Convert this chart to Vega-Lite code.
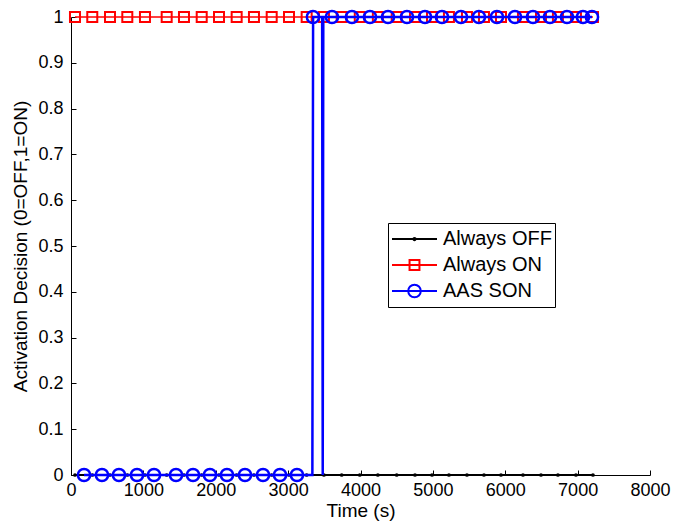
{
  "$schema": "https://vega.github.io/schema/vega-lite/v6.json",
  "width": 579,
  "height": 458,
  "autosize": "none",
  "padding": {"left": 71, "top": 17, "right": 23, "bottom": 49},
  "background": "white",
  "config": {
    "view": {"stroke": null},
    "font": "Liberation Sans",
    "axis": {
      "grid": false,
      "domainColor": "black",
      "domainWidth": 1,
      "tickColor": "black",
      "tickSize": -5,
      "tickWidth": 1,
      "labelColor": "black",
      "labelFont": "Liberation Sans",
      "labelFontSize": 18,
      "titleColor": "black",
      "titleFont": "Liberation Sans",
      "titleFontSize": 19,
      "titleFontWeight": "normal"
    }
  },
  "datasets": {
    "lines": [
      {"series": "Always OFF", "t": 55, "v": 0}, {"series": "Always OFF", "t": 294, "v": 0}, {"series": "Always OFF", "t": 539, "v": 0}, {"series": "Always OFF", "t": 778, "v": 0}, {"series": "Always OFF", "t": 1022, "v": 0}, {"series": "Always OFF", "t": 1322, "v": 0}, {"series": "Always OFF", "t": 1561, "v": 0}, {"series": "Always OFF", "t": 1806, "v": 0}, {"series": "Always OFF", "t": 2045, "v": 0}, {"series": "Always OFF", "t": 2289, "v": 0}, {"series": "Always OFF", "t": 2528, "v": 0}, {"series": "Always OFF", "t": 2773, "v": 0}, {"series": "Always OFF", "t": 3012, "v": 0}, {"series": "Always OFF", "t": 3256, "v": 0}, {"series": "Always OFF", "t": 3495, "v": 0}, {"series": "Always OFF", "t": 3740, "v": 0}, {"series": "Always OFF", "t": 3990, "v": 0}, {"series": "Always OFF", "t": 4240, "v": 0}, {"series": "Always OFF", "t": 4500, "v": 0}, {"series": "Always OFF", "t": 4753, "v": 0}, {"series": "Always OFF", "t": 4988, "v": 0}, {"series": "Always OFF", "t": 5222, "v": 0}, {"series": "Always OFF", "t": 5471, "v": 0}, {"series": "Always OFF", "t": 5706, "v": 0}, {"series": "Always OFF", "t": 5941, "v": 0}, {"series": "Always OFF", "t": 6245, "v": 0}, {"series": "Always OFF", "t": 6494, "v": 0}, {"series": "Always OFF", "t": 6728, "v": 0}, {"series": "Always OFF", "t": 6977, "v": 0}, {"series": "Always OFF", "t": 7212, "v": 0},
      {"series": "Always ON", "t": 55, "v": 1}, {"series": "Always ON", "t": 294, "v": 1}, {"series": "Always ON", "t": 539, "v": 1}, {"series": "Always ON", "t": 778, "v": 1}, {"series": "Always ON", "t": 1022, "v": 1}, {"series": "Always ON", "t": 1322, "v": 1}, {"series": "Always ON", "t": 1561, "v": 1}, {"series": "Always ON", "t": 1806, "v": 1}, {"series": "Always ON", "t": 2045, "v": 1}, {"series": "Always ON", "t": 2289, "v": 1}, {"series": "Always ON", "t": 2528, "v": 1}, {"series": "Always ON", "t": 2773, "v": 1}, {"series": "Always ON", "t": 3012, "v": 1}, {"series": "Always ON", "t": 3256, "v": 1}, {"series": "Always ON", "t": 3495, "v": 1}, {"series": "Always ON", "t": 3740, "v": 1}, {"series": "Always ON", "t": 3990, "v": 1}, {"series": "Always ON", "t": 4240, "v": 1}, {"series": "Always ON", "t": 4500, "v": 1}, {"series": "Always ON", "t": 4753, "v": 1}, {"series": "Always ON", "t": 4988, "v": 1}, {"series": "Always ON", "t": 5222, "v": 1}, {"series": "Always ON", "t": 5471, "v": 1}, {"series": "Always ON", "t": 5706, "v": 1}, {"series": "Always ON", "t": 5941, "v": 1}, {"series": "Always ON", "t": 6245, "v": 1}, {"series": "Always ON", "t": 6494, "v": 1}, {"series": "Always ON", "t": 6728, "v": 1}, {"series": "Always ON", "t": 6977, "v": 1}, {"series": "Always ON", "t": 7212, "v": 1},
      {"series": "AAS SON", "t": 180, "v": 0}, {"series": "AAS SON", "t": 428, "v": 0}, {"series": "AAS SON", "t": 663, "v": 0}, {"series": "AAS SON", "t": 912, "v": 0}, {"series": "AAS SON", "t": 1147, "v": 0}, {"series": "AAS SON", "t": 1451, "v": 0}, {"series": "AAS SON", "t": 1686, "v": 0}, {"series": "AAS SON", "t": 1920, "v": 0}, {"series": "AAS SON", "t": 2155, "v": 0}, {"series": "AAS SON", "t": 2404, "v": 0}, {"series": "AAS SON", "t": 2653, "v": 0}, {"series": "AAS SON", "t": 2888, "v": 0}, {"series": "AAS SON", "t": 3122, "v": 0}, {"series": "AAS SON", "t": 3335, "v": 0}, {"series": "AAS SON", "t": 3345, "v": 1}, {"series": "AAS SON", "t": 3470, "v": 1}, {"series": "AAS SON", "t": 3478, "v": 0}, {"series": "AAS SON", "t": 3486, "v": 1}, {"series": "AAS SON", "t": 3606, "v": 1}, {"series": "AAS SON", "t": 3882, "v": 1}, {"series": "AAS SON", "t": 4131, "v": 1}, {"series": "AAS SON", "t": 4380, "v": 1}, {"series": "AAS SON", "t": 4642, "v": 1}, {"series": "AAS SON", "t": 4891, "v": 1}, {"series": "AAS SON", "t": 5126, "v": 1}, {"series": "AAS SON", "t": 5388, "v": 1}, {"series": "AAS SON", "t": 5636, "v": 1}, {"series": "AAS SON", "t": 5885, "v": 1}, {"series": "AAS SON", "t": 6134, "v": 1}, {"series": "AAS SON", "t": 6383, "v": 1}, {"series": "AAS SON", "t": 6618, "v": 1}, {"series": "AAS SON", "t": 6853, "v": 1}, {"series": "AAS SON", "t": 7074, "v": 1}, {"series": "AAS SON", "t": 7198, "v": 1}
    ],
    "markers": [
      {"series": "Always OFF", "t": 55, "v": 0}, {"series": "Always OFF", "t": 294, "v": 0}, {"series": "Always OFF", "t": 539, "v": 0}, {"series": "Always OFF", "t": 778, "v": 0}, {"series": "Always OFF", "t": 1022, "v": 0}, {"series": "Always OFF", "t": 1322, "v": 0}, {"series": "Always OFF", "t": 1561, "v": 0}, {"series": "Always OFF", "t": 1806, "v": 0}, {"series": "Always OFF", "t": 2045, "v": 0}, {"series": "Always OFF", "t": 2289, "v": 0}, {"series": "Always OFF", "t": 2528, "v": 0}, {"series": "Always OFF", "t": 2773, "v": 0}, {"series": "Always OFF", "t": 3012, "v": 0}, {"series": "Always OFF", "t": 3256, "v": 0}, {"series": "Always OFF", "t": 3495, "v": 0}, {"series": "Always OFF", "t": 3740, "v": 0}, {"series": "Always OFF", "t": 3990, "v": 0}, {"series": "Always OFF", "t": 4240, "v": 0}, {"series": "Always OFF", "t": 4500, "v": 0}, {"series": "Always OFF", "t": 4753, "v": 0}, {"series": "Always OFF", "t": 4988, "v": 0}, {"series": "Always OFF", "t": 5222, "v": 0}, {"series": "Always OFF", "t": 5471, "v": 0}, {"series": "Always OFF", "t": 5706, "v": 0}, {"series": "Always OFF", "t": 5941, "v": 0}, {"series": "Always OFF", "t": 6245, "v": 0}, {"series": "Always OFF", "t": 6494, "v": 0}, {"series": "Always OFF", "t": 6728, "v": 0}, {"series": "Always OFF", "t": 6977, "v": 0}, {"series": "Always OFF", "t": 7212, "v": 0},
      {"series": "Always ON", "t": 55, "v": 1}, {"series": "Always ON", "t": 294, "v": 1}, {"series": "Always ON", "t": 539, "v": 1}, {"series": "Always ON", "t": 778, "v": 1}, {"series": "Always ON", "t": 1022, "v": 1}, {"series": "Always ON", "t": 1322, "v": 1}, {"series": "Always ON", "t": 1561, "v": 1}, {"series": "Always ON", "t": 1806, "v": 1}, {"series": "Always ON", "t": 2045, "v": 1}, {"series": "Always ON", "t": 2289, "v": 1}, {"series": "Always ON", "t": 2528, "v": 1}, {"series": "Always ON", "t": 2773, "v": 1}, {"series": "Always ON", "t": 3012, "v": 1}, {"series": "Always ON", "t": 3256, "v": 1}, {"series": "Always ON", "t": 3495, "v": 1}, {"series": "Always ON", "t": 3740, "v": 1}, {"series": "Always ON", "t": 3990, "v": 1}, {"series": "Always ON", "t": 4240, "v": 1}, {"series": "Always ON", "t": 4500, "v": 1}, {"series": "Always ON", "t": 4753, "v": 1}, {"series": "Always ON", "t": 4988, "v": 1}, {"series": "Always ON", "t": 5222, "v": 1}, {"series": "Always ON", "t": 5471, "v": 1}, {"series": "Always ON", "t": 5706, "v": 1}, {"series": "Always ON", "t": 5941, "v": 1}, {"series": "Always ON", "t": 6245, "v": 1}, {"series": "Always ON", "t": 6494, "v": 1}, {"series": "Always ON", "t": 6728, "v": 1}, {"series": "Always ON", "t": 6977, "v": 1}, {"series": "Always ON", "t": 7212, "v": 1},
      {"series": "AAS SON", "t": 180, "v": 0}, {"series": "AAS SON", "t": 428, "v": 0}, {"series": "AAS SON", "t": 663, "v": 0}, {"series": "AAS SON", "t": 912, "v": 0}, {"series": "AAS SON", "t": 1147, "v": 0}, {"series": "AAS SON", "t": 1451, "v": 0}, {"series": "AAS SON", "t": 1686, "v": 0}, {"series": "AAS SON", "t": 1920, "v": 0}, {"series": "AAS SON", "t": 2155, "v": 0}, {"series": "AAS SON", "t": 2404, "v": 0}, {"series": "AAS SON", "t": 2653, "v": 0}, {"series": "AAS SON", "t": 2888, "v": 0}, {"series": "AAS SON", "t": 3122, "v": 0}, {"series": "AAS SON", "t": 3343, "v": 1}, {"series": "AAS SON", "t": 3606, "v": 1}, {"series": "AAS SON", "t": 3882, "v": 1}, {"series": "AAS SON", "t": 4131, "v": 1}, {"series": "AAS SON", "t": 4380, "v": 1}, {"series": "AAS SON", "t": 4642, "v": 1}, {"series": "AAS SON", "t": 4891, "v": 1}, {"series": "AAS SON", "t": 5126, "v": 1}, {"series": "AAS SON", "t": 5388, "v": 1}, {"series": "AAS SON", "t": 5636, "v": 1}, {"series": "AAS SON", "t": 5885, "v": 1}, {"series": "AAS SON", "t": 6134, "v": 1}, {"series": "AAS SON", "t": 6383, "v": 1}, {"series": "AAS SON", "t": 6618, "v": 1}, {"series": "AAS SON", "t": 6853, "v": 1}, {"series": "AAS SON", "t": 7074, "v": 1}, {"series": "AAS SON", "t": 7198, "v": 1}
    ]
  },
  "encoding": {
    "x": {
      "field": "t",
      "type": "quantitative",
      "scale": {"domain": [0, 8000], "nice": false, "zero": false},
      "axis": {
        "title": "Time (s)",
        "values": [0, 1000, 2000, 3000, 4000, 5000, 6000, 7000, 8000],
        "format": "d",
        "labelPadding": 11,
        "titlePadding": 2,
        "labelFlush": false,
        "labelOverlap": false
      }
    },
    "y": {
      "field": "v",
      "type": "quantitative",
      "scale": {"domain": [0, 1], "nice": false},
      "axis": {
        "title": "Activation Decision (0=OFF,1=ON)",
        "values": [0, 0.1, 0.2, 0.3, 0.4, 0.5, 0.6, 0.7, 0.8, 0.9, 1],
        "format": "~g",
        "labelPadding": 13,
        "titlePadding": 7,
        "labelFlush": false,
        "labelOverlap": false
      }
    }
  },
  "layer": [
    {
      "data": {"name": "markers"},
      "mark": {"type": "point", "filled": false, "opacity": 0, "strokeWidth": 2},
      "encoding": {
        "color": {
          "field": "series",
          "type": "nominal",
          "scale": {"domain": ["Always OFF", "Always ON", "AAS SON"], "range": ["#000000", "#ff0000", "#0000ff"]},
          "legend": {
            "orient": "none",
            "legendX": 317,
            "legendY": 206,
            "title": null,
            "strokeColor": "black",
            "fillColor": "white",
            "padding": 3,
            "labelFont": "Liberation Sans",
            "labelFontSize": 20,
            "labelColor": "black",
            "labelOffset": 5,
            "symbolSize": 2025,
            "symbolStrokeWidth": 2,
            "symbolOpacity": 1,
            "symbolFillColor": "transparent",
            "clipHeight": 26,
            "rowPadding": 0
          }
        },
        "shape": {
          "field": "series",
          "type": "nominal",
          "scale": {
            "domain": ["Always OFF", "Always ON", "AAS SON"],
            "range": [
              "M-1,0H1M-0.05,0a0.05,0.05 0 1,0 0.1,0a0.05,0.05 0 1,0 -0.1,0",
              "M-1,0H1M-0.22,-0.22H0.22V0.22H-0.22Z",
              "M-1,0H1M-0.28,0a0.28,0.28 0 1,0 0.56,0a0.28,0.28 0 1,0 -0.56,0"
            ]
          }
        }
      }
    },
    {
      "data": {"name": "lines"},
      "transform": [{"filter": "datum.series === 'Always OFF'"}],
      "mark": {"type": "line", "strokeWidth": 2, "color": "#000000"}
    },
    {
      "data": {"name": "markers"},
      "transform": [{"filter": "datum.series === 'Always OFF'"}],
      "mark": {"type": "point", "shape": "circle", "filled": true, "size": 14, "color": "#000000", "opacity": 1}
    },
    {
      "data": {"name": "lines"},
      "transform": [{"filter": "datum.series === 'Always ON'"}],
      "mark": {"type": "line", "strokeWidth": 1.5, "color": "#ff0000"}
    },
    {
      "data": {"name": "markers"},
      "transform": [{"filter": "datum.series === 'Always ON'"}],
      "mark": {"type": "point", "shape": "square", "filled": false, "size": 100, "color": "#ff0000", "strokeWidth": 2, "opacity": 1}
    },
    {
      "data": {"name": "lines"},
      "transform": [{"filter": "datum.series === 'AAS SON'"}],
      "mark": {"type": "line", "strokeWidth": 2.5, "color": "#0000ff"}
    },
    {
      "data": {"name": "markers"},
      "transform": [{"filter": "datum.series === 'AAS SON'"}],
      "mark": {"type": "point", "shape": "circle", "filled": false, "size": 150, "color": "#0000ff", "strokeWidth": 2.5, "opacity": 1}
    }
  ]
}
